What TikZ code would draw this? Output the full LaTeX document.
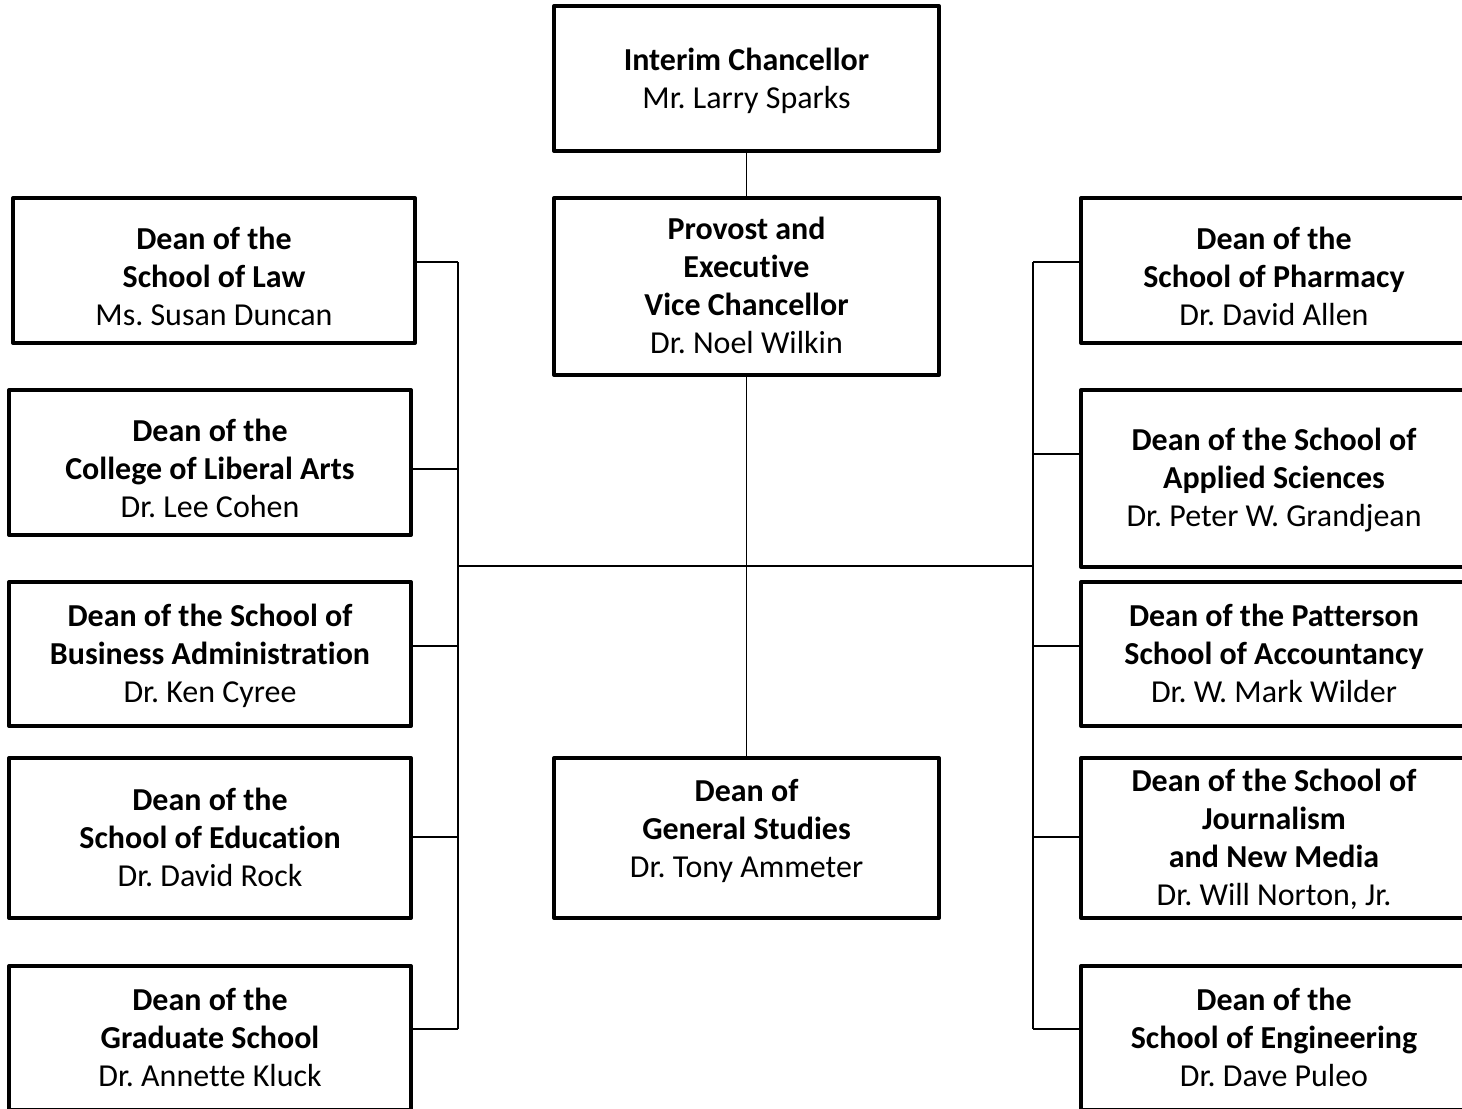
\documentclass[tikz,border=0pt]{standalone}
\usepackage{fontspec}
\setmainfont{Carlito}[Ligatures=NoCommon]
\frenchspacing
\usepackage{tikz}
\newcommand{\boxtext}[2][-0.05cm]{\raisebox{#1}[\height][\depth]{\begin{tabular}{@{}c@{}}#2\end{tabular}}}
\tikzset{box/.style={draw,line width=2.3pt,line join=round,inner sep=0pt,font=\fontsize{18.2}{21.6}\selectfont},
lbox/.style={box,minimum width=8.04cm},
rbox/.style={box,minimum width=7.72cm},
cbox/.style={box,minimum width=7.7cm},
wire/.style={line width=0.8pt}}

\begin{document}
\begin{tikzpicture}[x=0.02cm,y=-0.02cm]
\clip (0,0) rectangle (1462,1108);
\useasboundingbox (0,0) rectangle (1462,1108);
\node[cbox,minimum height=2.9cm] (chanc) at (746.5,78.5) {\boxtext[-0.06cm]{\textbf{Interim Chancellor}\\Mr. Larry Sparks}};
\node[cbox,minimum height=3.54cm] (prov) at (746.5,286.5) {\boxtext{\textbf{Provost and}\\\textbf{Executive}\\\textbf{Vice Chancellor}\\Dr. Noel Wilkin}};
\node[cbox,minimum height=3.2cm] (gen) at (746.5,838) {\boxtext[0.12cm]{\textbf{Dean of}\\\textbf{General Studies}\\Dr. Tony Ammeter}};
\node[lbox,minimum height=2.9cm] (law) at (214,270.5) {\boxtext[-0.18cm]{\textbf{Dean of the}\\\textbf{School of Law}\\Ms. Susan Duncan}};
\node[lbox,minimum height=2.9cm] (arts) at (210,462.5) {\boxtext[-0.19cm]{\textbf{Dean of the}\\\textbf{College of Liberal Arts}\\Dr. Lee Cohen}};
\node[lbox,minimum height=2.88cm] (bus) at (210,654) {\boxtext{\textbf{Dean of the School of}\\\textbf{Business Administration}\\Dr. Ken Cyree}};
\node[lbox,minimum height=3.2cm] (edu) at (210,838) {\boxtext{\textbf{Dean of the}\\\textbf{School of Education}\\Dr. David Rock}};
\node[lbox,minimum height=2.88cm] (grad) at (210,1038) {\boxtext{\textbf{Dean of the}\\\textbf{Graduate School}\\Dr. Annette Kluck}};
\node[rbox,minimum height=2.9cm] (pharm) at (1274,270.5) {\boxtext[-0.18cm]{\textbf{Dean of the}\\\textbf{School of Pharmacy}\\Dr. David Allen}};
\node[rbox,minimum height=3.54cm] (appl) at (1274,478.5) {\boxtext{\textbf{Dean of the School of}\\\textbf{Applied Sciences}\\Dr. Peter W. Grandjean}};
\node[rbox,minimum height=2.88cm] (acct) at (1274,654) {\boxtext{\textbf{Dean of the Patterson}\\\textbf{School of Accountancy}\\Dr. W. Mark Wilder}};
\node[rbox,minimum height=3.2cm] (journ) at (1274,838) {\boxtext{\textbf{Dean of the School of}\\\textbf{Journalism}\\\textbf{and New Media}\\Dr. Will Norton, Jr.}};
\node[rbox,minimum height=2.88cm] (eng) at (1274,1038) {\boxtext{\textbf{Dean of the}\\\textbf{School of Engineering}\\Dr. Dave Puleo}};
\coordinate (l1) at (458,262);
\coordinate (l2) at (458,469);
\coordinate (l3) at (458,646);
\coordinate (l4) at (458,837);
\coordinate (l5) at (458,1029);
\coordinate (r1) at (1033,262);
\coordinate (r2) at (1033,454);
\coordinate (r3) at (1033,646);
\coordinate (r4) at (1033,837);
\coordinate (r5) at (1033,1029);
\coordinate (lmid) at (458,566);
\coordinate (rmid) at (1033,566);
\draw[wire] (chanc) -- (prov);
\draw[wire] (prov) -- (gen);
\draw[wire] (lmid) -- (rmid);
\draw[wire] (l1) -- (l5);
\draw[wire] (r1) -- (r5);
\draw[wire] (l1) -- (l1 -| law.east);
\draw[wire] (l2) -- (l2 -| arts.east);
\draw[wire] (l3) -- (l3 -| bus.east);
\draw[wire] (l4) -- (l4 -| edu.east);
\draw[wire] (l5) -- (l5 -| grad.east);
\draw[wire] (r1) -- (r1 -| pharm.west);
\draw[wire] (r2) -- (r2 -| appl.west);
\draw[wire] (r3) -- (r3 -| acct.west);
\draw[wire] (r4) -- (r4 -| journ.west);
\draw[wire] (r5) -- (r5 -| eng.west);
\end{tikzpicture}
\end{document}
